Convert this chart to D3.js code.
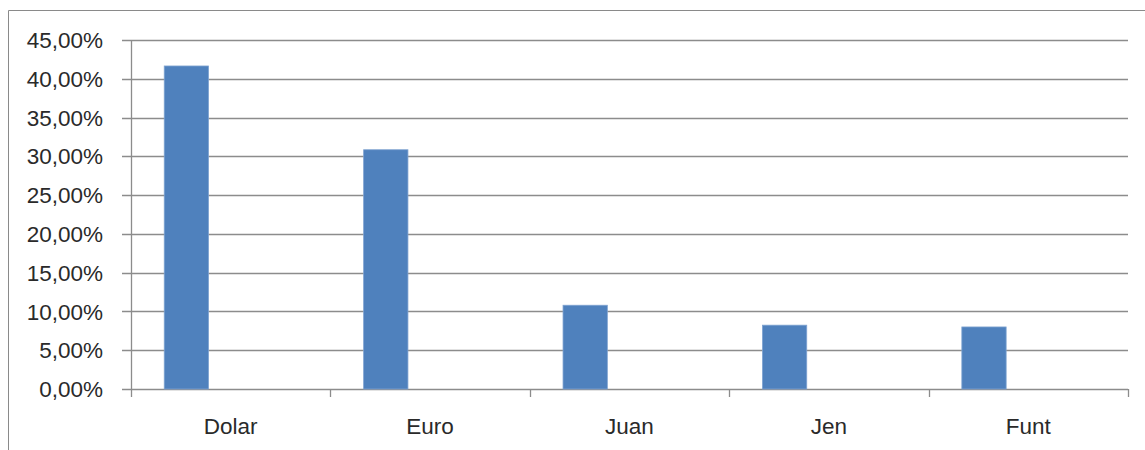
<!DOCTYPE html>
<html>
<head>
<meta charset="utf-8">
<script src="https://cdn.jsdelivr.net/npm/d3@7"></script>
<style>
  body { margin: 0; background: #ffffff; }
  svg { display: block; font-family: "Liberation Sans", Arial, sans-serif; }
</style>
</head>
<body>
<svg id="chart"></svg>
<script>
const categories = ["Dolar", "Euro", "Juan", "Jen", "Funt"];
const shares = [41.65, 30.85, 10.8, 8.23, 8.0];
const yTicks = [0, 5, 10, 15, 20, 25, 30, 35, 40, 45];

const width = 1145;
const height = 450;
const margin = { top: 40, right: 17, bottom: 61, left: 131 };

const svg = d3.select("#chart")
  .attr("width", width)
  .attr("height", height);

// chart frame (only top/left edge visible in the crop)
svg.append("path")
  .attr("d", `M8.5,${height} V10.5 H${width}`)
  .attr("fill", "none")
  .attr("stroke", "#8a8a8a")
  .attr("stroke-width", 1);

const x = d3.scaleBand()
  .domain(categories)
  .range([margin.left, width - margin.right])
  .padding(0);

const y = d3.scaleLinear()
  .domain([0, 45])
  .range([height - margin.bottom, margin.top]);

function formatPct(v) {
  return d3.format(".2f")(v).replace(".", ",") + "%";
}

// horizontal gridlines, extending left as tick marks
svg.append("g")
  .selectAll("line")
  .data(yTicks)
  .enter()
  .append("line")
  .attr("x1", margin.left - 9)
  .attr("x2", width - margin.right)
  .attr("y1", d => Math.round(y(d)) + 0.5)
  .attr("y2", d => Math.round(y(d)) + 0.5)
  .attr("stroke", "#8c8c8c")
  .attr("stroke-width", 1.3);

// y labels
svg.append("g")
  .selectAll("text")
  .data(yTicks)
  .enter()
  .append("text")
  .attr("x", 103)
  .attr("y", d => y(d))
  .attr("dy", "0.36em")
  .attr("text-anchor", "end")
  .attr("font-size", 22.5)
  .attr("fill", "#2a2a2a")
  .text(d => formatPct(d));

// y axis line
svg.append("line")
  .attr("x1", margin.left + 0.5)
  .attr("x2", margin.left + 0.5)
  .attr("y1", y(45))
  .attr("y2", y(0))
  .attr("stroke", "#8c8c8c")
  .attr("stroke-width", 1.3);

// category boundary ticks below x axis
const boundaries = categories.map(c => x(c)).concat([width - margin.right]);
svg.append("g")
  .selectAll("line")
  .data(boundaries)
  .enter()
  .append("line")
  .attr("x1", d => Math.round(d) + 0.5)
  .attr("x2", d => Math.round(d) + 0.5)
  .attr("y1", y(0))
  .attr("y2", y(0) + 8)
  .attr("stroke", "#8c8c8c")
  .attr("stroke-width", 1.3);

// bars: first of three series slots in each category
const slot = x.bandwidth() / 4.5;
svg.append("g")
  .selectAll("rect")
  .data(shares)
  .enter()
  .append("rect")
  .attr("x", (d, i) => x(categories[i]) + slot * 0.75)
  .attr("y", d => y(d))
  .attr("width", slot)
  .attr("height", d => y(0) - y(d))
  .attr("fill", "#4f81bd")
  .attr("stroke", "#7fa3d1")
  .attr("stroke-width", 0.8);

// category labels
svg.append("g")
  .selectAll("text")
  .data(categories)
  .enter()
  .append("text")
  .attr("x", d => x(d) + x.bandwidth() / 2)
  .attr("y", 434)
  .attr("text-anchor", "middle")
  .attr("font-size", 22.5)
  .attr("fill", "#2a2a2a")
  .text(d => d);
</script>
</body>
</html>
